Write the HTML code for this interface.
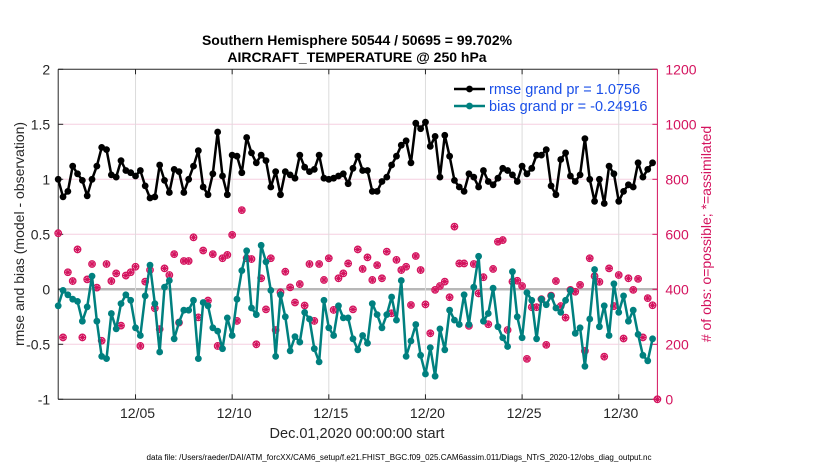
<!DOCTYPE html>
<html><head><meta charset="utf-8"><style>
html,body{margin:0;padding:0;background:#fff;}
svg{display:block;font-family:"Liberation Sans",Arial,sans-serif;}
</style></head><body>
<svg id="chart" width="830" height="470" viewBox="0 0 830 470" xmlns="http://www.w3.org/2000/svg"></svg>
<script>
const leftTicks=[2,1.5,1,0.5,0,-0.5,-1];
const leftTickLabels=["2","1.5","1","0.5","0","-0.5","-1"];
const rightTicks=[1200,1000,800,600,400,200,0];
const dateTickDays=[4,9,14,19,24,29];
const dateTickLabels=["12/05","12/10","12/15","12/20","12/25","12/30"];
const rmse=[1.00,0.84,0.89,1.12,1.05,0.99,0.85,1.00,1.12,1.29,1.27,1.04,1.02,1.17,1.08,1.06,1.03,1.08,0.94,0.83,0.84,1.13,0.99,0.88,1.09,1.07,0.88,1.00,1.12,1.26,0.93,0.86,1.05,1.43,1.03,0.86,1.22,1.21,1.06,1.38,1.24,1.15,1.22,1.17,0.93,1.07,0.86,1.07,1.04,1.01,1.22,1.11,1.07,1.09,1.22,1.01,1.00,1.01,1.03,1.05,0.96,1.10,1.21,1.08,1.08,0.89,0.89,0.98,1.02,1.13,1.21,1.31,1.35,1.15,1.51,1.46,1.52,1.30,1.39,1.02,1.40,1.21,0.99,0.93,0.89,1.05,1.02,0.93,1.08,0.98,0.95,1.01,1.10,1.08,1.04,0.98,1.12,1.05,1.10,1.22,1.22,1.27,0.94,0.86,1.18,1.24,1.03,0.98,1.04,1.37,1.00,0.80,1.00,0.78,1.12,1.05,0.80,0.89,0.95,0.93,1.15,1.02,1.09,1.15];
const bias=[-0.15,-0.01,-0.05,-0.09,-0.11,-0.29,-0.16,0.12,-0.29,-0.61,-0.63,-0.22,-0.36,-0.13,-0.05,-0.10,-0.35,-0.42,-0.06,0.22,-0.13,-0.57,0.02,0.08,-0.45,-0.30,-0.19,-0.19,-0.10,-0.63,-0.12,-0.15,-0.35,-0.38,-0.54,-0.26,-0.42,-0.09,0.17,0.35,-0.17,-0.23,0.40,0.25,-0.01,-0.61,-0.05,-0.25,-0.56,-0.43,-0.48,-0.21,-0.27,-0.54,-0.66,-0.10,-0.35,-0.42,-0.15,-0.26,-0.26,-0.45,-0.55,-0.42,-0.49,-0.13,-0.23,-0.35,-0.23,-0.07,-0.28,0.08,-0.61,-0.47,-0.32,-0.60,-0.77,-0.53,-0.79,-0.36,-0.55,-0.19,-0.28,-0.32,-0.05,-0.32,0.02,0.30,-0.29,-0.22,0.01,-0.34,-0.44,-0.52,0.16,-0.25,-0.44,-0.03,-0.10,-0.45,-0.09,-0.14,-0.06,-0.17,-0.21,-0.10,-0.01,-0.40,-0.35,-0.70,-0.27,0.18,-0.34,-0.15,-0.42,0.05,-0.21,-0.06,-0.29,-0.19,-0.41,-0.60,-0.65,-0.45];
const obsCount=[604,225,462,430,545,225,436,492,406,213,492,430,458,268,450,462,482,194,428,470,331,255,476,452,528,279,503,503,589,298,541,359,528,194,513,525,598,285,688,513,510,200,440,327,513,252,389,464,407,352,419,341,492,285,492,434,513,325,440,458,494,327,545,474,516,434,488,440,537,313,507,470,482,343,521,470,345,240,398,412,428,371,628,494,494,267,492,385,444,273,474,573,579,252,428,431,412,147,335,335,364,198,377,430,339,297,398,391,416,176,513,448,427,155,476,339,452,221,440,398,438,225,368,342,0];

const NS="http://www.w3.org/2000/svg";
const svg=document.getElementById('chart');
const X0=58.2,X1=657.4,YT=69.3,YB=399.3;
const xDay=d=>X0+(X1-X0)*d/31;
const xIdx=i=>xDay(i/4);
const yL=v=>YB-(v+1)*(YB-YT)/3;
const yR=v=>YB-v*(YB-YT)/1200;
function mk(tag,attrs,parent){const e=document.createElementNS(NS,tag);for(const k in attrs)e.setAttribute(k,attrs[k]);(parent||svg).appendChild(e);return e;}
function txt(s,attrs,parent){const e=mk('text',attrs,parent);e.textContent=s;return e;}

const grid=mk('g',{});


leftTicks.forEach(v=>{if(v===2||v===-1)return;mk('line',{x1:X0,x2:X1,y1:yL(v),y2:yL(v),stroke:v===0?'#b8b8b8':'#f6cfe0','stroke-width':v===0?2.5:1},grid);});
dateTickDays.forEach(d=>mk('line',{x1:xDay(d),x2:xDay(d),y1:YT,y2:YB,stroke:'#dcdcdc','stroke-width':1},grid));

const ax=mk('g',{});


mk('line',{x1:X0,x2:X1,y1:YT,y2:YT,stroke:'#262626'},ax);
mk('line',{x1:X0,x2:X1,y1:YB,y2:YB,stroke:'#262626'},ax);
mk('line',{x1:X0,x2:X0,y1:YT,y2:YB,stroke:'#262626'},ax);
mk('line',{x1:X1,x2:X1,y1:YT,y2:YB,stroke:'#d4135e'},ax);

const lt=mk('g',{});


leftTicks.forEach((v,i)=>{mk('line',{x1:X0,x2:X0+5,y1:yL(v),y2:yL(v),stroke:'#262626'},lt);txt(leftTickLabels[i],{x:X0-8,y:yL(v)+5,'text-anchor':'end','font-size':14,fill:'#262626'},lt);});
const rt=mk('g',{});


rightTicks.forEach(v=>{mk('line',{x1:X1-5,x2:X1,y1:yR(v),y2:yR(v),stroke:'#d4135e'},rt);txt(String(v),{x:X1+8,y:yR(v)+5,'font-size':14,fill:'#d4135e'},rt);});
const xt=mk('g',{});


dateTickDays.forEach((d,i)=>{mk('line',{x1:xDay(d),x2:xDay(d),y1:YB,y2:YB-5,stroke:'#262626'},xt);mk('line',{x1:xDay(d),x2:xDay(d),y1:YT,y2:YT+5,stroke:'#262626'},xt);txt(dateTickLabels[i],{x:xDay(d)+2,y:418,'text-anchor':'middle','font-size':14,fill:'#262626'},xt);});

const og=mk('g',{});


obsCount.forEach((v,i)=>{const x=xIdx(i),y=yR(v);const g=mk('g',{},og);


mk('circle',{cx:x,cy:y,r:3.3,fill:'none',stroke:'#d4135e','stroke-width':1.2},g);
mk('path',{d:`M${x-3.5},${y}H${x+3.5}M${x},${y-3.5}V${y+3.5}M${x-2.5},${y-2.5}L${x+2.5},${y+2.5}M${x-2.5},${y+2.5}L${x+2.5},${y-2.5}`,stroke:'#d4135e','stroke-width':1.2},g);});

function series(arr,color,name){const g=mk('g',{});


mk('polyline',{points:arr.map((v,i)=>xIdx(i)+','+yL(v)).join(' '),fill:'none',stroke:color,'stroke-width':2.5,'stroke-linejoin':'round'},g);
arr.forEach((v,i)=>{const c=mk('circle',{cx:xIdx(i),cy:yL(v),r:3.4,fill:color},g);

});}
series(bias,'#00807f','bias-series');
series(rmse,'#000000','rmse-series');

const lg=mk('g',{});


mk('line',{x1:454,x2:485,y1:89,y2:89,stroke:'#000','stroke-width':2.5},lg);mk('circle',{cx:469.5,cy:89,r:3.4,fill:'#000'},lg);
txt('rmse grand pr = 1.0756',{x:489,y:94,'font-size':14.5,fill:'#1a4fe8'},lg);
mk('line',{x1:454,x2:485,y1:106,y2:106,stroke:'#00807f','stroke-width':2.5},lg);mk('circle',{cx:469.5,cy:106,r:3.4,fill:'#00807f'},lg);
txt('bias grand pr = -0.24916',{x:489,y:111,'font-size':14.5,fill:'#1a4fe8'},lg);

let t;
t=txt('Southern Hemisphere 50544 / 50695 = 99.702%',{x:357,y:45,'text-anchor':'middle','font-size':14,'font-weight':'bold',fill:'#000'});

t=txt('AIRCRAFT_TEMPERATURE @ 250 hPa',{x:357,y:62,'text-anchor':'middle','font-size':14,'font-weight':'bold',fill:'#000'});

t=txt('rmse and bias (model - observation)',{x:0,y:0,'text-anchor':'middle','font-size':14,fill:'#262626',transform:'translate(24,234) rotate(-90)'});

t=txt('# of obs: o=possible; *=assimilated',{x:0,y:0,'text-anchor':'middle','font-size':14,fill:'#d4135e',transform:'translate(711,234) rotate(-90)'});

t=txt('Dec.01,2020 00:00:00 start',{x:357,y:438,'text-anchor':'middle','font-size':14.5,fill:'#262626'});

t=txt('data file: /Users/raeder/DAI/ATM_forcXX/CAM6_setup/f.e21.FHIST_BGC.f09_025.CAM6assim.011/Diags_NTrS_2020-12/obs_diag_output.nc',{x:399,y:460,'text-anchor':'middle','font-size':8,fill:'#000',textLength:505,lengthAdjust:'spacingAndGlyphs'});

</script>
</body></html>
